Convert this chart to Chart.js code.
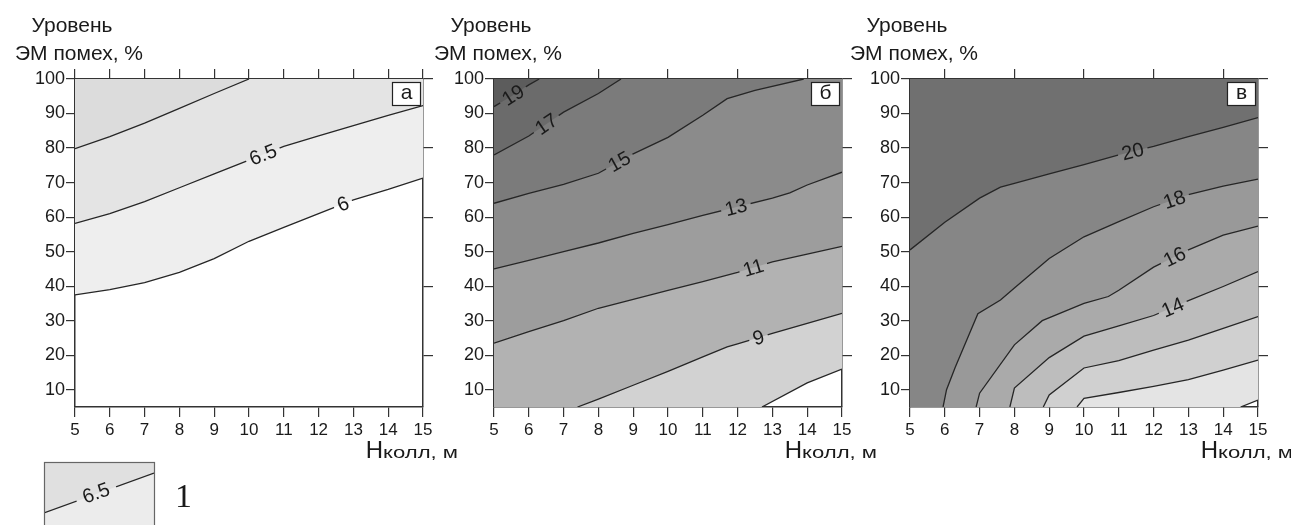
<!DOCTYPE html>
<html lang="ru">
<head>
<meta charset="utf-8">
<title>Уровень ЭМ помех</title>
<script src="https://cdn.jsdelivr.net/npm/chart.js@4.4.1/dist/chart.umd.min.js"></script>
<style>
  html, body { margin: 0; padding: 0; background: #fff; }
  #wrap { position: relative; width: 1291px; height: 525px; overflow: hidden; }
  #wrap canvas { position: absolute; left: 0; top: 0; }
</style>
</head>
<body>
<div id="wrap">
  <canvas id="chartA" width="1291" height="525"></canvas>
  <canvas id="chartB" width="1291" height="525"></canvas>
  <canvas id="chartC" width="1291" height="525"></canvas>
</div>
<script>
// axis ticks
const hValues = [5, 6, 7, 8, 9, 10, 11, 12, 13, 14, 15]
const levelValues = [10, 20, 30, 40, 50, 60, 70, 80, 90, 100]
const rightValues = [20, 40, 60, 80, 100]
const topValuesA = [5, 6, 7, 8, 9, 10, 11, 12, 13, 14, 15]
const topValuesBC = [6, 8, 10, 12, 14]

// а) contour lines as [Нколл, level %]
const a7 = [[5, 79.8], [6, 83.3], [7, 87.2], [8, 91.5], [9, 95.8], [10, 100]]
const a65 = [[5, 58.2], [6, 61], [7, 64.5], [8, 68.5], [9, 72.5], [10, 76.5], [11, 80.5], [12, 83.5], [13, 86.5], [14, 89.5], [15, 92.3]]
const a6 = [[5, 37.5], [6, 39], [7, 41], [8, 44], [9, 48], [10, 53], [11, 57], [12, 61], [13, 65], [14, 68], [15, 71.3]]

// б)
const b19 = [[5, 92], [5.5, 95], [6, 98.3], [6.3, 100]]
const b17 = [[5, 78], [6, 83.5], [7, 90.4], [8, 95.8], [8.65, 100]]
const b15 = [[5, 64], [6, 66.9], [7, 69.5], [8, 72.7], [9, 78.3], [10, 83.1], [11, 89.5], [11.7, 94.3], [12.5, 96.7], [13.9, 100]]
const b13 = [[5, 45], [6, 47.5], [7, 50], [8, 52.5], [9, 55.3], [10, 57.8], [11, 60.5], [12, 63], [13, 65.5], [13.5, 67], [14, 69.3], [15, 73]]
const b11 = [[5, 23.5], [6, 26.8], [7, 30], [8, 33.6], [9, 36.2], [10, 38.8], [11, 41.3], [12, 44], [13, 47], [14, 49.3], [15, 51.5]]
const b9 = [[7.4, 5], [8, 7.3], [9, 11.3], [10, 15.3], [11, 19.5], [11.7, 22.4], [12, 23.3], [13, 26.3], [14, 29.2], [15, 32.1]]
const b7 = [[12.7, 5], [14, 12], [15, 16]]

// в)
const c20 = [[5, 50.5], [6, 58.5], [7, 65.5], [7.6, 68.7], [8, 69.8], [9, 72.5], [10, 75.2], [11, 78], [12, 80.5], [13, 83.3], [14, 86], [15, 88.8]]
const c18 = [[5.95, 5], [6.05, 10], [6.3, 16.5], [6.95, 32], [7.6, 36], [8, 39.5], [9, 48], [10, 54.3], [11, 58.7], [12, 63], [13, 66.5], [14, 69], [15, 71]]
const c16 = [[6.9, 5], [7, 9], [8, 23], [8.8, 30], [10, 35], [10.7, 37], [11, 38.8], [12, 45.5], [13, 50.5], [14, 54.8], [15, 57.4]]
const c14 = [[7.87, 5], [8, 10.5], [9, 19.3], [10, 25.5], [11, 28.5], [12, 31.5], [13, 35.8], [14, 39.9], [15, 44.2]]
const c12 = [[8.83, 5], [9, 8.5], [10, 16.3], [11, 18.4], [12, 21.5], [13, 24.4], [14, 27.8], [15, 31.2]]
const c10 = [[9.8, 5], [10, 7.5], [11, 9.2], [12, 11], [13, 12.9], [14, 15.7], [15, 18.6]]
const c8 = [[14.5, 5], [15, 7]]

const X_MIN = 5, X_MAX = 15, Y_MIN = 5, Y_MAX = 100
const W = 1291, H = 525, PLOT_TOP = 79, PLOT_BOTTOM = 407
const FONT = "'Liberation Sans', Arial, sans-serif"
const LABEL_FONT = "20px " + FONT
const INK = "#1a1a1a"
const LINE = "#262626"

// highest level first: fill dataset 0 is painted last
const panels = [
    {
        canvas: "chartA", letter: "а", topTicks: topValuesA, legend: true, left: 75, right: 423,
        lines: [a7, a65, a6], names: ["7", "6.5", "6"],
        fills: ["#dcdcdc", "#e4e4e4", "#eeeeee"],
        labelAt: [null, 10.4, 12.7]
    },
    {
        canvas: "chartB", letter: "б", topTicks: topValuesBC, left: 494, right: 842,
        lines: [b19, b17, b15, b13, b11, b9, b7], names: ["19", "17", "15", "13", "11", "9", "7"],
        fills: ["#5c5c5c", "#6b6b6b", "#7b7b7b", "#8b8b8b", "#9d9d9d", "#b2b2b2", "#d2d2d2"],
        labelAt: [5.55, 6.5, 8.6, 11.95, 12.45, 12.6, null]
    },
    {
        canvas: "chartC", letter: "в", topTicks: topValuesBC, left: 910, right: 1258,
        lines: [c20, c18, c16, c14, c12, c10, c8], names: ["20", "18", "16", "14", "12", "10", "8"],
        fills: ["#707070", "#868686", "#999999", "#aaaaaa", "#bdbdbd", "#d0d0d0", "#e4e4e4"],
        labelAt: [11.4, 12.6, 12.6, 12.55, null, null, null]
    }
]

function toPoints(pts) {
    return pts.map(p => ({ x: p[0], y: p[1] }))
}

// fill outline: a line starting on the bottom edge also takes the lower-left corner
function toFillPoints(pts) {
    const out = toPoints(pts)
    if (out[0].y <= Y_MIN && out[0].x > X_MIN) out.unshift({ x: X_MIN, y: Y_MIN })
    return out
}

function yOnLine(pts, x) {
    for (let i = 0; i < pts.length - 1; i++) {
        const a = pts[i], b = pts[i + 1]
        if (x >= a.x && x <= b.x && b.x > a.x) return a.y + (b.y - a.y) * (x - a.x) / (b.x - a.x)
    }
    return pts[pts.length - 1].y
}

function labelItems(chart, p) {
    const xs = chart.scales.x, ys = chart.scales.y, ctx = chart.ctx
    const n = p.lines.length
    const out = []
    p.labelAt.forEach((lx, i) => {
        if (lx == null) return
        const pts = chart.data.datasets[n + i].data
        const d = 0.25
        const dx = xs.getPixelForValue(lx + d) - xs.getPixelForValue(lx - d)
        const dy = ys.getPixelForValue(yOnLine(pts, lx + d)) - ys.getPixelForValue(yOnLine(pts, lx - d))
        ctx.save()
        ctx.font = LABEL_FONT
        const w = ctx.measureText(p.names[i]).width
        ctx.restore()
        out.push({
            ds: n + i, text: p.names[i],
            px: xs.getPixelForValue(lx), py: ys.getPixelForValue(yOnLine(pts, lx)),
            ang: Math.atan2(dy, dx), w: w + 8, h: 20
        })
    })
    return out
}

function rotRect(ctx, g) {
    const c = Math.cos(g.ang), s = Math.sin(g.ang)
    const corners = [[-g.w / 2, -g.h / 2], [g.w / 2, -g.h / 2], [g.w / 2, g.h / 2], [-g.w / 2, g.h / 2]]
    corners.forEach(([u, v], i) => {
        const X = g.px + u * c - v * s, Y = g.py + u * s + v * c
        if (i) ctx.lineTo(X, Y)
        else ctx.moveTo(X, Y)
    })
    ctx.closePath()
}

function drawKey(ctx, area) {
    // little key under panel а
    const x0 = area.left - 31, y0 = area.bottom + 55, w = 110, h = 80
    ctx.save()
    ctx.beginPath()
    ctx.rect(x0, y0, w, h)
    ctx.clip()
    ctx.fillStyle = "#ececec"
    ctx.fillRect(x0, y0, w, h)
    ctx.fillStyle = "#e0e0e0"
    ctx.beginPath()
    ctx.moveTo(x0, y0)
    ctx.lineTo(x0 + w, y0)
    ctx.lineTo(x0 + w, y0 + 11)
    ctx.lineTo(x0, y0 + 51)
    ctx.closePath()
    ctx.fill()
    const ang = Math.atan2(-40, w)
    const g = { px: x0 + 52, py: y0 + 31, ang: ang, w: 42, h: 20 }
    ctx.beginPath()
    ctx.rect(x0, y0, w, h)
    rotRect(ctx, g)
    ctx.clip("evenodd")
    ctx.strokeStyle = LINE
    ctx.lineWidth = 1.3
    ctx.beginPath()
    ctx.moveTo(x0, y0 + 51)
    ctx.lineTo(x0 + w, y0 + 11)
    ctx.stroke()
    ctx.restore()
    ctx.save()
    ctx.translate(g.px, g.py)
    ctx.rotate(ang)
    ctx.font = LABEL_FONT
    ctx.fillStyle = INK
    ctx.textAlign = "center"
    ctx.textBaseline = "middle"
    ctx.fillText("6.5", 0, 1)
    ctx.restore()
    ctx.strokeStyle = "#666"
    ctx.lineWidth = 1.2
    ctx.strokeRect(x0 + 0.5, y0 + 0.5, w, h)
    ctx.fillStyle = INK
    ctx.font = "34px 'Liberation Serif', 'DejaVu Serif', serif"
    ctx.textAlign = "left"
    ctx.textBaseline = "alphabetic"
    ctx.fillText("1", x0 + 131, y0 + 45)
}

function contourPlugin(p) {
    const clipped = {}
    return {
        id: "contour_" + p.canvas,
        beforeDatasetDraw(chart, args) {
            const items = labelItems(chart, p).filter(g => g.ds === args.index)
            if (!items.length) return
            const ctx = chart.ctx
            ctx.save()
            ctx.beginPath()
            ctx.rect(0, 0, chart.width, chart.height)
            items.forEach(g => rotRect(ctx, g))
            ctx.clip("evenodd")
            clipped[args.index] = true
        },
        afterDatasetDraw(chart, args) {
            if (clipped[args.index]) {
                chart.ctx.restore()
                clipped[args.index] = false
            }
        },
        afterDatasetsDraw(chart) {
            const ctx = chart.ctx
            labelItems(chart, p).forEach(g => {
                ctx.save()
                ctx.translate(g.px, g.py)
                ctx.rotate(g.ang)
                ctx.font = LABEL_FONT
                ctx.fillStyle = INK
                ctx.textAlign = "center"
                ctx.textBaseline = "middle"
                ctx.fillText(g.text, 0, 1)
                ctx.restore()
            })
        },
        afterDraw(chart) {
            const ctx = chart.ctx, area = chart.chartArea
            ctx.save()
            ctx.fillStyle = INK
            ctx.font = "21px " + FONT
            ctx.textAlign = "center"
            ctx.textBaseline = "alphabetic"
            ctx.fillText("Уровень", area.left - 3, 32)
            ctx.fillText("ЭМ помех, %", area.left + 4, 60)

            // panel letter box
            ctx.fillStyle = "#fff"
            ctx.fillRect(area.right - 30, area.top + 3, 28, 23)
            ctx.strokeStyle = "#222"
            ctx.lineWidth = 1.2
            ctx.strokeRect(area.right - 30.5, area.top + 3.5, 28, 23)
            ctx.fillStyle = INK
            ctx.font = "21px " + FONT
            ctx.textAlign = "center"
            ctx.textBaseline = "middle"
            ctx.fillText(p.letter, area.right - 16.5, area.top + 14)

            // x axis title: Н + колл, м
            ctx.textBaseline = "alphabetic"
            ctx.textAlign = "left"
            const tail = "колл, м"
            const sx = 1.3
            ctx.font = "17px " + FONT
            const tailW = ctx.measureText(tail).width * sx
            ctx.font = "24px " + FONT
            const hW = ctx.measureText("Н").width
            const xEnd = area.right + 35, base = area.bottom + 51
            ctx.fillText("Н", xEnd - tailW - hW, base)
            ctx.save()
            ctx.translate(xEnd - tailW, base)
            ctx.scale(sx, 1)
            ctx.font = "17px " + FONT
            ctx.fillText(tail, 0, 0)
            ctx.restore()

            if (p.legend) drawKey(ctx, area)
            ctx.restore()
        }
    }
}

function axisStyle(len) {
    return {
        grid: { drawOnChartArea: false, drawTicks: true, tickLength: len, color: "#333", lineWidth: 1.2 },
        border: { color: "#333", width: 1.5 }
    }
}

function makeChart(p) {
    // filled bands (no outline), then the contour lines on top
    const fillSets = p.lines.map((pts, i) => ({
        label: "band " + p.names[i],
        data: toFillPoints(pts),
        borderWidth: 0,
        borderColor: "rgba(0,0,0,0)",
        pointRadius: 0,
        tension: 0,
        fill: "end",
        backgroundColor: p.fills[i]
    }))
    const lineSets = p.lines.map((pts, i) => ({
        label: p.names[i],
        data: toPoints(pts),
        borderColor: LINE,
        borderWidth: 1.3,
        pointRadius: 0,
        tension: 0,
        fill: false
    }))

    const config = {
        type: "line",
        data: { datasets: fillSets.concat(lineSets) },
        options: {
            responsive: false,
            animation: false,
            devicePixelRatio: 1,
            events: [],
            layout: {
                padding: {
                    left: p.left - 45,
                    right: W - p.right - 15,
                    top: PLOT_TOP - 15,
                    bottom: H - PLOT_BOTTOM - 30
                }
            },
            scales: {
                x: {
                    type: "linear", position: "bottom", min: X_MIN, max: X_MAX, z: 1,
                    afterBuildTicks: s => { s.ticks = hValues.map(v => ({ value: v })) },
                    afterFit: s => { s.height = 30 },
                    ...axisStyle(10),
                    ticks: { padding: 3, color: INK, autoSkip: false, maxRotation: 0, font: { family: FONT, size: 17 } }
                },
                xTop: {
                    type: "linear", position: "top", min: X_MIN, max: X_MAX, z: 1,
                    afterBuildTicks: s => { s.ticks = p.topTicks.map(v => ({ value: v })) },
                    afterFit: s => { s.height = 15 },
                    ...axisStyle(10),
                    ticks: { display: false }
                },
                y: {
                    type: "linear", position: "left", min: Y_MIN, max: Y_MAX, z: 1,
                    afterBuildTicks: s => { s.ticks = levelValues.map(v => ({ value: v })) },
                    afterFit: s => { s.width = 45 },
                    ...axisStyle(9),
                    ticks: { padding: 1, color: INK, font: { family: FONT, size: 18 } }
                },
                yRight: {
                    type: "linear", position: "right", min: Y_MIN, max: Y_MAX, z: 1,
                    afterBuildTicks: s => { s.ticks = rightValues.map(v => ({ value: v })) },
                    afterFit: s => { s.width = 15 },
                    ...axisStyle(10),
                    ticks: { display: false }
                }
            },
            plugins: {
                legend: { display: false },
                tooltip: { enabled: false },
                filler: { drawTime: "beforeDatasetsDraw" }
            }
        },
        plugins: [contourPlugin(p)]
    }
    return new Chart(document.getElementById(p.canvas), config)
}

const charts = panels.map(makeChart)
</script>
</body>
</html>
